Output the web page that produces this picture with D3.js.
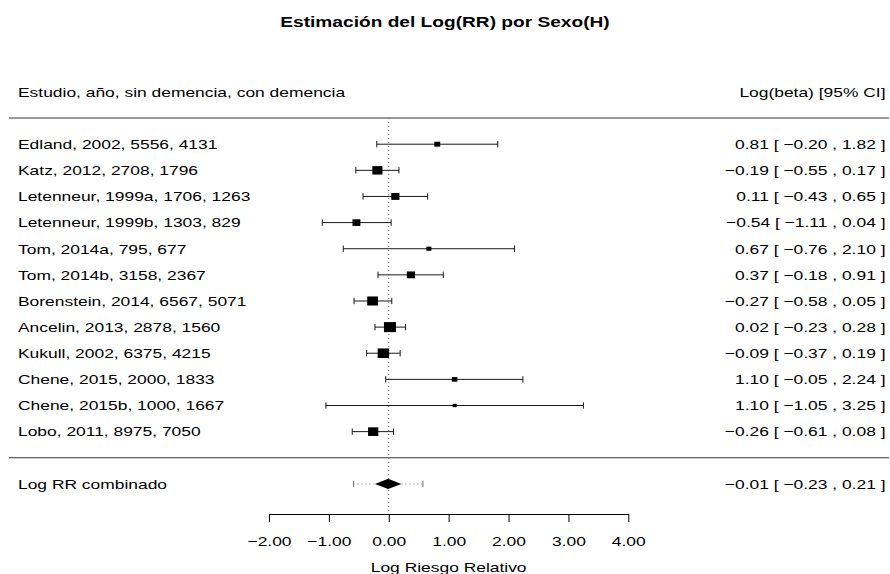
<!DOCTYPE html>
<html>
<head>
<meta charset="utf-8">
<script src="https://cdn.jsdelivr.net/npm/d3@7"></script>
<style>
  html, body { margin: 0; padding: 0; background: #fff; }
  svg { display: block; font-family: "Liberation Sans", Arial, Helvetica, sans-serif; }
</style>
</head>
<body>
<svg id="forest" width="890" height="574"></svg>
<script>
// Estudios incluidos: etiqueta, log(RR) e IC 95%
const estudios = [
  "Edland, 2002, 5556, 4131",
  "Katz, 2012, 2708, 1796",
  "Letenneur, 1999a, 1706, 1263",
  "Letenneur, 1999b, 1303, 829",
  "Tom, 2014a, 795, 677",
  "Tom, 2014b, 3158, 2367",
  "Borenstein, 2014, 6567, 5071",
  "Ancelin, 2013, 2878, 1560",
  "Kukull, 2002, 6375, 4215",
  "Chene, 2015, 2000, 1833",
  "Chene, 2015b, 1000, 1667",
  "Lobo, 2011, 8975, 7050"
];
const logRR = [0.81, -0.19, 0.11, -0.54, 0.67, 0.37, -0.27, 0.02, -0.09, 1.10, 1.10, -0.26];
const icInf = [-0.20, -0.55, -0.43, -1.11, -0.76, -0.18, -0.58, -0.23, -0.37, -0.05, -1.05, -0.61];
const icSup = [1.82, 0.17, 0.65, 0.04, 2.10, 0.91, 0.05, 0.28, 0.19, 2.24, 3.25, 0.08];

// Estimación combinada [est, inf, sup] e intervalo de predicción
const combinado = [-0.01, -0.23, 0.21];
const prediccion = [-0.59, 0.57];

const ticksX = [-2, -1, 0, 1, 2, 3, 4];
const titulo = "Estimación del Log(RR) por Sexo(H)";
const cabeceraIzq = "Estudio, año, sin demencia, con demencia";
const cabeceraDer = "Log(beta) [95% CI]";
const etiquetaComb = "Log RR combinado";
const tituloEje = "Log Riesgo Relativo";

const svg = d3.select("#forest");
const k = estudios.length;

// Escalas
const x = d3.scaleLinear().domain([-2, 4]).range([269, 628.3]);
const y = d3.scaleLinear().domain([k, -1]).range([144.2, 483.9]);

const SX = 1.34;          // ancho relativo del texto
const FS = 13;            // tamaño de letra base
const minus = s => s.replace(/-/g, "\u2212");
const f2 = v => minus(d3.format(".2f")(v));
const anot = (e, l, u) => `${f2(e)} [ ${f2(l)} , ${f2(u)} ]`;

function texto(tx, ty, str, anchor, opts = {}) {
  svg.append("text")
    .attr("transform", `translate(${tx},${ty}) scale(${opts.sx || SX},1)`)
    .attr("text-anchor", anchor)
    .attr("font-size", opts.size || FS)
    .attr("font-weight", opts.weight || "normal")
    .attr("fill", "#000")
    .text(str);
}

const xL = 9, xR = 889;
const filas = d3.range(k).map(i => k - i);   // Edland arriba

// Líneas horizontales de separación
[k + 1, 0].forEach(r => {
  svg.append("line")
    .attr("x1", xL).attr("x2", xR)
    .attr("y1", y(r)).attr("y2", y(r))
    .attr("stroke", "#333").attr("stroke-width", 1.1);
});

// Línea de referencia en 0
svg.append("line")
  .attr("x1", x(0)).attr("x2", x(0))
  .attr("y1", y(k + 1)).attr("y2", 514)
  .attr("stroke", "#777").attr("stroke-width", 1)
  .attr("stroke-dasharray", "1,3");

// Intervalos de confianza de cada estudio
const cap = 3.2;
const g = svg.append("g").attr("stroke", "#1a1a1a").attr("stroke-width", 1);
filas.forEach((r, i) => {
  const yy = y(r);
  g.append("line").attr("x1", x(icInf[i])).attr("x2", x(icSup[i])).attr("y1", yy).attr("y2", yy);
  g.append("line").attr("x1", x(icInf[i])).attr("x2", x(icInf[i])).attr("y1", yy - cap).attr("y2", yy + cap);
  g.append("line").attr("x1", x(icSup[i])).attr("x2", x(icSup[i])).attr("y1", yy - cap).attr("y2", yy + cap);
});

// Tamaño de los cuadrados según la precisión de cada estudio
const se = icInf.map((l, i) => (icSup[i] - l) / (2 * 1.96));
const wi = se.map(s => Math.sqrt(1 / s));
const wScale = d3.scaleLinear().domain(d3.extent(wi)).range([0.5, 1.5]);
filas.forEach((r, i) => {
  const ps = wScale(wi[i]);
  const w = ps * 8, h = ps * 6.7;
  svg.append("rect")
    .attr("x", x(logRR[i]) - w / 2).attr("y", y(r) - h / 2)
    .attr("width", w).attr("height", h)
    .attr("fill", "#000");
});

// Intervalo de predicción (punteado) y diamante combinado
const yc = y(-1);
svg.append("line")
  .attr("x1", x(prediccion[0])).attr("x2", x(prediccion[1]))
  .attr("y1", yc).attr("y2", yc)
  .attr("stroke", "#777").attr("stroke-dasharray", "1,3");
prediccion.forEach(v => {
  svg.append("line")
    .attr("x1", x(v)).attr("x2", x(v)).attr("y1", yc - cap).attr("y2", yc + cap)
    .attr("stroke", "#777");
});
const dh = 5.2;
svg.append("path")
  .attr("d", `M${x(combinado[1])},${yc} L${x(combinado[0])},${yc - dh} L${x(combinado[2])},${yc} L${x(combinado[0])},${yc + dh} Z`)
  .attr("fill", "#000");

// Textos de filas
const off = 4.8;
filas.forEach((r, i) => {
  texto(18, y(r) + off, estudios[i], "start");
  texto(885.5, y(r) + off, anot(logRR[i], icInf[i], icSup[i]), "end");
});
texto(18, yc + off, etiquetaComb, "start");
texto(885.5, yc + off, anot(combinado[0], combinado[1], combinado[2]), "end");

// Cabeceras y título
texto(18, y(k + 2) + off, cabeceraIzq, "start");
texto(885.5, y(k + 2) + off, cabeceraDer, "end");
texto(445, 27, titulo, "middle", { weight: "bold", size: 14.5, sx: 1.32 });

// Eje x
const eje = svg.append("g")
  .attr("transform", "translate(0,514)")
  .call(d3.axisBottom(x).tickValues(ticksX).tickFormat(f2).tickSize(8).tickSizeOuter(0));
eje.select(".domain").attr("stroke", "#000");
eje.selectAll(".tick line").attr("stroke", "#000");
eje.selectAll(".tick text")
  .attr("y", 32).attr("dy", 0)
  .attr("font-size", FS)
  .attr("font-family", null)
  .attr("fill", "#000")
  .attr("transform", `scale(${SX},1)`);
texto(x(1), 572, tituloEje, "middle");
</script>
</body>
</html>
